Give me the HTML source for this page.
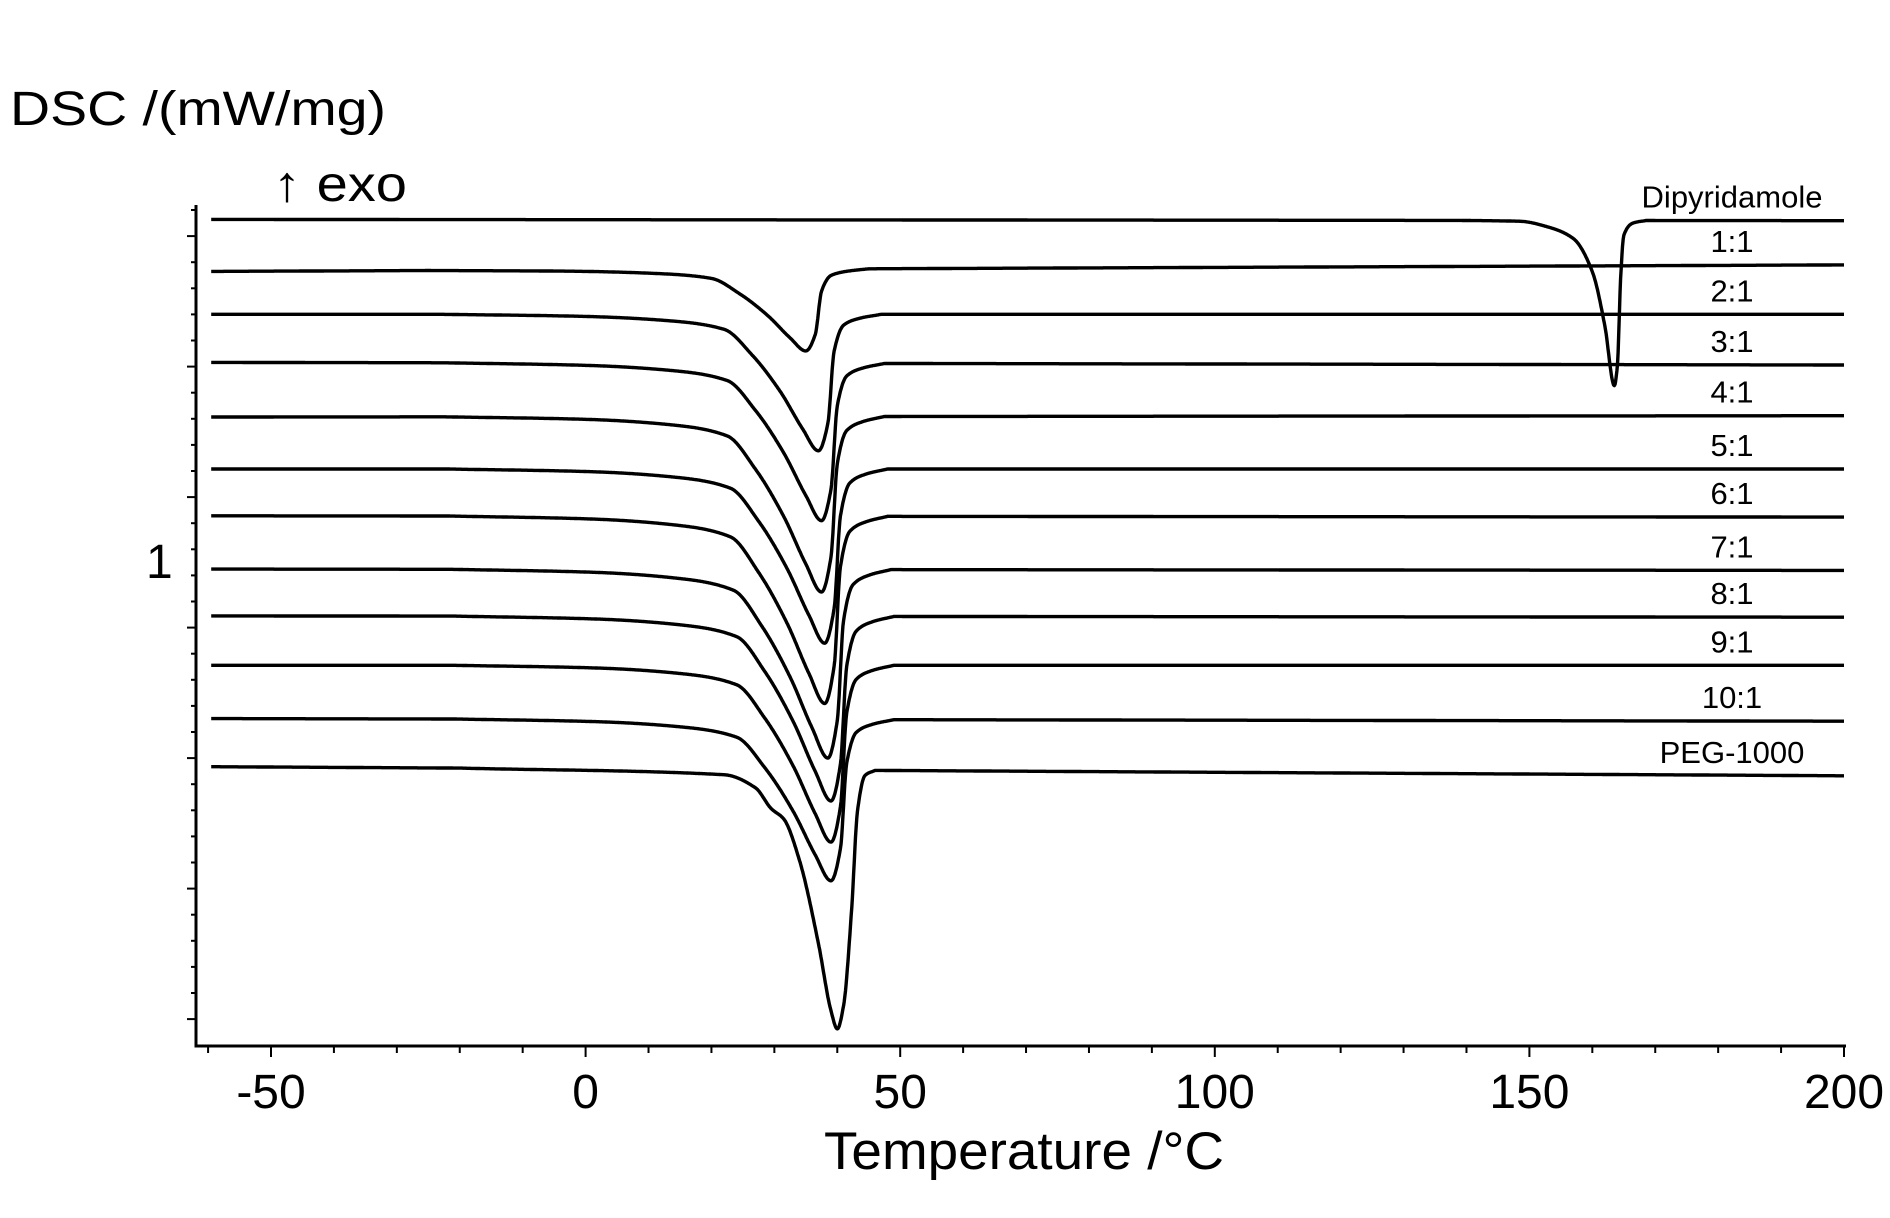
<!DOCTYPE html>
<html><head><meta charset="utf-8"><style>
html,body{margin:0;padding:0;background:#fff}
svg{display:block}
text{font-family:"Liberation Sans",Arial,sans-serif;fill:#000}
</style></head><body>
<svg id="chart" width="1890" height="1218" viewBox="0 0 1890 1218" xmlns="http://www.w3.org/2000/svg">
<text x="10" y="125" font-size="48" textLength="376" lengthAdjust="spacingAndGlyphs">DSC /(mW/mg)</text>
<text x="273" y="201" font-size="50" textLength="134" lengthAdjust="spacingAndGlyphs">↑ exo</text>
<text x="146" y="578" font-size="48">1</text>
<text x="1024" y="1169" font-size="53" text-anchor="middle" textLength="400" lengthAdjust="spacingAndGlyphs">Temperature /°C</text>
<g id="axes"></g>
<g id="series"></g>
<g id="labels"></g>
</svg>
<script>
const seriesNames = ["Dipyridamole","1:1","2:1","3:1","4:1","5:1","6:1","7:1","8:1","9:1","10:1","PEG-1000"];
const baselineLeft = [3.62,3.22,2.89,2.52,2.10,1.70,1.34,0.93,0.57,0.19,-0.22,-0.59];
const baselineRight = [3.61,3.27,2.89,2.50,2.11,1.70,1.33,0.92,0.56,0.19,-0.24,-0.66];
const peakTemp = [163.5,35,37,37.5,37.5,38,38,38.5,39,39,39,40];
const peakDepth = [1.27,0.63,1.05,1.21,1.35,1.34,1.44,1.45,1.42,1.36,1.24,1.99];
const shapeIndex = [0,1,1,1,1,1,1,1,1,1,1,2];
const xTickLabels = [-50,0,50,100,150,200];
// normalized peak shapes: offsets from peak (°C) and fraction of depth
const shapeOffsets = [
  [-25,-15,-10.5,-6.5,-3.5,-1.5,0,0.5,1,1.5,3,5],
  [-60,-37.5,-23,-15,-10.5,-6,-2.5,0,1.5,2.5,4,6.5,10],
  [-60,-18,-13,-10.5,-8.5,-6,-3,-1,0,1,2.3,3.2,4.4,6]
];
const shapeFractions = [
  [0,0.005,0.04,0.11,0.31,0.64,1,0.87,0.35,0.09,0.015,0],
  [0,0.015,0.05,0.11,0.3,0.57,0.84,1,0.8,0.27,0.08,0.03,0],
  [0,0.02,0.07,0.15,0.19,0.35,0.67,0.93,1,0.91,0.53,0.16,0.02,0]
];
const NS="http://www.w3.org/2000/svg";
const xs = T => 271 + (T+50)*(1844-271)/250;
const ys = v => 560 - (v-1)*130;
const T0=-59.5, T1=200;
// monotone cubic (PCHIP) tangents per shape
const tangents = shapeOffsets.map((o,k)=>{
  const f=shapeFractions[k], n=o.length, d=[], m=new Array(n).fill(0);
  for(let i=0;i<n-1;i++) d.push((f[i+1]-f[i])/(o[i+1]-o[i]));
  m[0]=d[0]; m[n-1]=d[n-2];
  for(let i=1;i<n-1;i++){
    if(d[i-1]*d[i]<=0){m[i]=0;}
    else{const h0=o[i]-o[i-1],h1=o[i+1]-o[i];const w1=2*h1+h0,w2=h1+2*h0;m[i]=(w1+w2)/(w1/d[i-1]+w2/d[i]);}
  }
  return m;
});
function shapeAt(k,x){
  const o=shapeOffsets[k], f=shapeFractions[k], m=tangents[k];
  if(x<=o[0]) return f[0];
  if(x>=o[o.length-1]) return f[f.length-1];
  for(let i=0;i<o.length-1;i++){
    if(x>=o[i]&&x<=o[i+1]){
      const h=o[i+1]-o[i], t=(x-o[i])/h, t2=t*t, t3=t2*t;
      return (2*t3-3*t2+1)*f[i]+(t3-2*t2+t)*h*m[i]+(-2*t3+3*t2)*f[i+1]+(t3-t2)*h*m[i+1];
    }
  }
  return 0;
}
function mk(tag,attrs,parent){const e=document.createElementNS(NS,tag);for(const k in attrs)e.setAttribute(k,attrs[k]);parent.appendChild(e);return e;}
const axes=document.getElementById('axes');
const ax=mk('path',{d:`M196 205 L196 1046 L1846 1046`,fill:'none',stroke:'#000','stroke-width':3},axes);


for(let i=0;i<=32;i++){
  const y=210+i*26.1;
  if(y>1044)break;
  const major=((i-1)%5===0);
  const t=mk('line',{x1:major?187:191,x2:196,y1:y,y2:y,stroke:'#000','stroke-width':2},axes);
  
  
}
for(let T=-60;T<=200;T+=10){
  const major=(T%50===0);
  const t=mk('line',{x1:xs(T),x2:xs(T),y1:1046,y2:major?1057:1053,stroke:'#000','stroke-width':2},axes);
  
  
}
xTickLabels.forEach(v=>{
  const t=mk('text',{x:xs(v),y:1108,'font-size':48,'text-anchor':'middle'},axes);
  t.textContent=String(v);
  
  
});
const sg=document.getElementById('series');
const lg=document.getElementById('labels');
seriesNames.forEach((name,i)=>{
  let d='';
  for(let T=T0;T<=T1+1e-6;T+=0.1){
    const base=baselineLeft[i]+(baselineRight[i]-baselineLeft[i])*(T-T0)/(T1-T0);
    const v=base-peakDepth[i]*shapeAt(shapeIndex[i],T-peakTemp[i]);
    d+=(d?'L':'M')+xs(T).toFixed(1)+' '+ys(v).toFixed(1);
  }
  const p=mk('path',{d:d,fill:'none',stroke:'#000','stroke-width':3.4,'stroke-linejoin':'round'},sg);
  
  
  const ly=ys(baselineRight[i])-13;
  const t=mk('text',{x:1732,y:ly,'font-size':31,'text-anchor':'middle'},lg);
  t.textContent=name;
  
  
});
</script>
</body></html>
